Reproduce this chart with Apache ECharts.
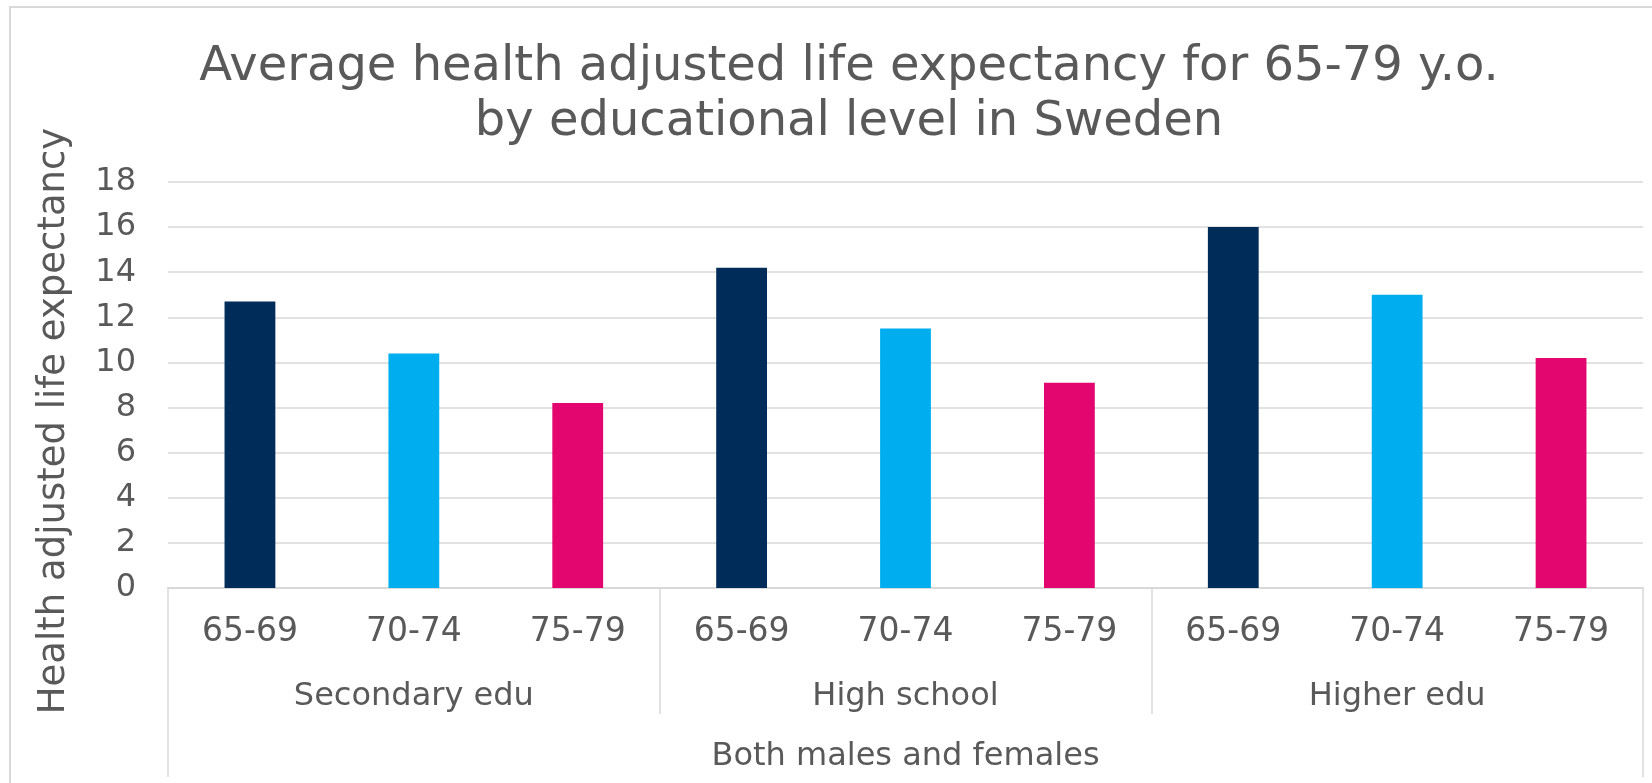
<!DOCTYPE html>
<html>
<head>
<meta charset="utf-8">
<title>Health adjusted life expectancy</title>
<script src="https://cdn.jsdelivr.net/npm/echarts@6/dist/echarts.min.js"></script>
<style>
    html, body { margin: 0; padding: 0; background: #fff; }
    #chart { width: 1652px; height: 783px; }
</style>
</head>
<body>
<div id="chart"></div>
<script>
// 数据
const ageGroups = ['65-69', '70-74', '75-79'];
const eduLevels = ['Secondary edu', 'High school', 'Higher edu'];
const sexGroup = ['Both males and females'];
const secondaryEdu = [12.7, 10.4, 8.2];
const highSchool = [14.2, 11.5, 9.1];
const higherEdu = [16.0, 13.0, 10.2];
const ageColors = ['#002C5A', '#00AEEF', '#E2066E'];

const textColor = '#595959';
const lineColor = '#D9D9D9';
const font = 'DejaVu Sans';

// 9个分类 = 3个教育程度 x 3个年龄段
const categories = eduLevels.flatMap(() => ageGroups);
const values = [secondaryEdu, highSchool, higherEdu].flat();
const barData = values.map((v, i) => ({
    value: v,
    itemStyle: { color: ageColors[i % ageColors.length] }
}));

const chart = echarts.init(document.getElementById('chart'), null, { renderer: 'canvas' });

chart.setOption({
    animation: false,
    textStyle: { fontFamily: font, color: textColor },
    title: {
        text: 'Average health adjusted life expectancy for 65-79 y.o.\nby educational level in Sweden',
        left: 844,
        top: 35,
        textAlign: 'center',
        textStyle: {
            fontFamily: font,
            fontWeight: 'normal',
            fontSize: 48,
            lineHeight: 55,
            color: textColor
        }
    },
    // 图表外框
    graphic: [{
        type: 'rect',
        shape: { x: 10, y: 7, width: 1700, height: 900 },
        style: { fill: 'none', stroke: lineColor, lineWidth: 2 },
        silent: true
    }],
    grid: {
        left: 168,
        right: 9,
        top: 182,
        bottom: 195
    },
    xAxis: [
        {
            type: 'category',
            data: categories,
            axisLine: { lineStyle: { color: lineColor, width: 2 } },
            axisTick: { show: false },
            axisLabel: {
                interval: 0,
                margin: 28,
                fontSize: 33,
                fontFamily: font,
                color: textColor
            }
        },
        {
            type: 'category',
            data: eduLevels,
            position: 'bottom',
            axisLine: { show: false },
            axisTick: {
                show: true,
                interval: 0,
                length: 126,
                lineStyle: { color: lineColor, width: 1.5 }
            },
            axisLabel: {
                interval: 0,
                margin: 93,
                fontSize: 32,
                fontFamily: font,
                color: textColor
            }
        },
        {
            type: 'category',
            data: sexGroup,
            position: 'bottom',
            axisLine: { show: false },
            axisTick: {
                show: true,
                interval: 0,
                length: 189,
                lineStyle: { color: lineColor, width: 1.5 }
            },
            axisLabel: {
                interval: 0,
                margin: 153,
                fontSize: 32,
                fontFamily: font,
                color: textColor
            }
        }
    ],
    yAxis: {
        type: 'value',
        min: 0,
        max: 18,
        interval: 2,
        name: 'Health adjusted life expectancy',
        nameLocation: 'middle',
        nameGap: 95,
        nameTextStyle: {
            fontFamily: font,
            fontSize: 37,
            color: textColor,
            padding: [0, 72, 0, 0]
        },
        axisLine: { show: false },
        axisTick: { show: false },
        axisLabel: {
            margin: 32,
            fontSize: 32,
            fontFamily: font,
            color: textColor
        },
        splitLine: { lineStyle: { color: lineColor, width: 1.5 } }
    },
    series: [{
        type: 'bar',
        xAxisIndex: 0,
        data: barData,
        barWidth: '31%'
    }]
});
</script>
</body>
</html>
